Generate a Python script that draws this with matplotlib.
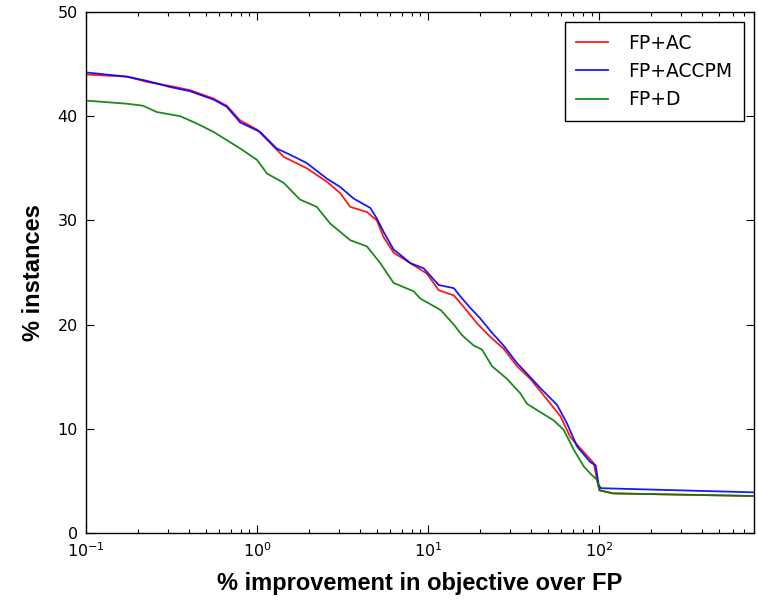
import matplotlib
matplotlib.use("Agg")
import matplotlib.pyplot as plt
from matplotlib.ticker import LogLocator, FixedLocator

# ---- data ----
x_ac = [0.1, 0.173, 0.226, 0.31, 0.405, 0.555, 0.665, 0.796, 1.0, 1.30, 1.43, 1.95,
        2.56, 3.06, 3.50, 4.38, 5.0, 5.48, 6.27, 8.2, 9.8, 11.5, 14.1, 16.1, 19.3,
        23.1, 27.5, 33.0, 39.4, 45.2, 59.2, 67.6, 92.6, 96.9, 100, 120, 800]
y_ac = [44.0, 43.8, 43.3, 42.9, 42.5, 41.7, 41.0, 39.6, 38.7, 36.8, 36.1, 35.0,
        33.7, 32.6, 31.3, 30.8, 30.0, 28.4, 26.9, 25.7, 24.9, 23.3, 22.8, 21.7, 20.1,
        18.8, 17.7, 16.0, 14.8, 13.6, 11.2, 9.2, 6.7, 5.1, 4.1, 3.8, 3.55]

x_accpm = [0.1, 0.173, 0.226, 0.31, 0.405, 0.555, 0.665, 0.796, 1.04, 1.30, 1.56, 1.95,
           2.56, 3.06, 3.66, 4.58, 5.0, 5.48, 6.27, 6.86, 7.85, 9.4, 11.5, 14.1, 15.4,
           17.6, 20.1, 23.6, 27.5, 33.0, 37.7, 45.2, 56.5, 64.7, 74, 88.5, 95, 99, 102,
           800]
y_accpm = [44.2, 43.8, 43.4, 42.8, 42.4, 41.6, 40.9, 39.4, 38.5, 36.9, 36.3, 35.5,
           34.0, 33.2, 32.1, 31.2, 30.2, 28.9, 27.2, 26.7, 25.9, 25.4, 23.8, 23.5, 22.7,
           21.6, 20.6, 19.2, 18.0, 16.3, 15.3, 13.9, 12.3, 10.5, 8.3, 6.8, 6.5, 4.6, 4.3,
           3.9]

x_d = [0.1, 0.173, 0.216, 0.259, 0.355, 0.444, 0.555, 0.665, 0.796, 1.0, 1.14, 1.43,
       1.78, 2.23, 2.67, 3.50, 4.38, 5.24, 6.27, 8.2, 8.98, 11.8, 14.1, 15.7, 18.4,
       20.6, 23.6, 28.8, 34.5, 37.7, 54.1, 61.8, 70.8, 80.9, 88.5, 96.9, 100, 120, 800]
y_d = [41.5, 41.2, 41.0, 40.4, 40.0, 39.3, 38.5, 37.7, 36.9, 35.8, 34.5, 33.6,
       32.0, 31.3, 29.7, 28.1, 27.5, 25.9, 24.0, 23.2, 22.5, 21.4, 20.0, 19.0, 18.0,
       17.6, 16.0, 14.8, 13.4, 12.4, 10.8, 9.9, 8.0, 6.4, 5.7, 5.1, 4.1, 3.8, 3.55]

labels = ["FP+AC", "FP+ACCPM", "FP+D"]
colors = ["#ff0000", "#0000ff", "#008000"]
y_ticks = [0, 10, 20, 30, 40, 50]

fig = plt.figure(figsize=(7.58, 6.05), dpi=100)
ax = fig.add_axes([86 / 758, 72 / 605, 668 / 758, 521 / 605])

for xs, ys, lab, c in zip([x_ac, x_accpm, x_d], [y_ac, y_accpm, y_d], labels, colors):
    ax.plot(xs, ys, color=c, lw=1.3, label=lab, alpha=0.9)

ax.set_xscale("log")
ax.set_xlim(0.1, 800)
ax.set_ylim(0, 50)
ax.yaxis.set_major_locator(FixedLocator(y_ticks))
ax.xaxis.set_major_locator(LogLocator(base=10, numticks=10))
ax.xaxis.set_minor_locator(LogLocator(base=10, subs=range(2, 10), numticks=20))

ax.tick_params(which="both", direction="in", top=True, right=True,
               labelsize=11.5, colors="black", pad=6)
ax.tick_params(which="major", length=6, width=0.8)
ax.tick_params(which="minor", length=3, width=0.8)
for sp in ax.spines.values():
    sp.set_linewidth(1.0)

ax.set_xlabel("% improvement in objective over FP", fontsize=17, fontweight="bold",
              family="Liberation Sans", labelpad=8.5)
ax.set_ylabel("% instances", fontsize=17, fontweight="bold",
              family="Liberation Sans", labelpad=9)

leg = ax.legend(loc="upper right", fontsize=13.5, fancybox=False, framealpha=1,
                edgecolor="black", handlelength=1.7, borderaxespad=0.55,
                labelspacing=0.5, handletextpad=1.1, borderpad=0.6)
leg.get_frame().set_linewidth(1.0)

fig.savefig("out.png", dpi=100)
